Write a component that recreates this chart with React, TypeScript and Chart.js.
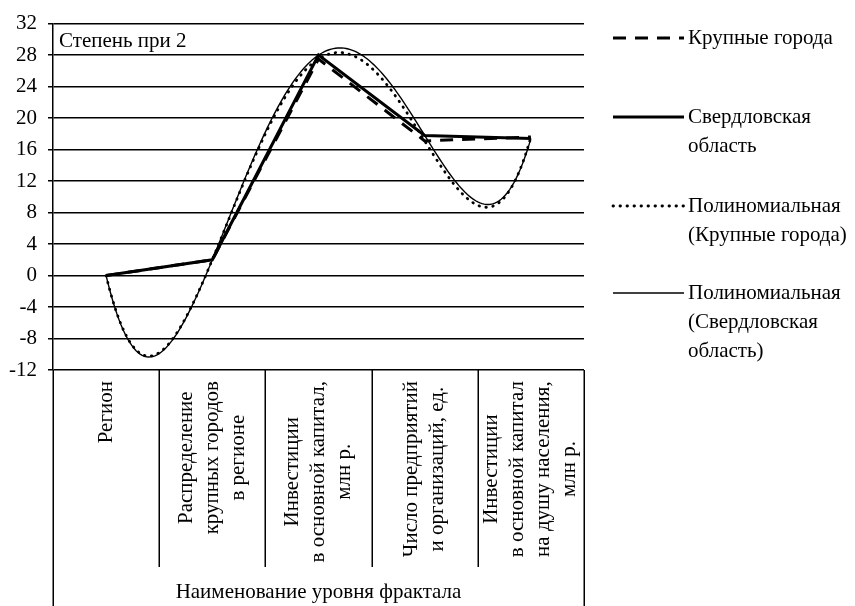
import React, { useEffect, useRef } from "react";
import { Chart, registerables } from "chart.js";
Chart.register(...registerables);

// ---- data ----
const categories: string[][] = [
  ["Регион"],
  ["Распределение", "крупных городов", "в регионе"],
  ["Инвестиции", "в основной капитал,", "млн р."],
  ["Число предприятий", "и организаций, ед."],
  ["Инвестиции", "в основной капитал", "на душу населения,", "млн р."],
];
const bigCities = [0, 2, 27.5, 17.1, 17.6];
const sverdlovsk = [0, 2, 28, 17.8, 17.4];
const yMin = -12;
const yMax = 32;
const yStep = 4;
const seriesNames = [
  "Крупные города",
  "Свердловская область",
  "Полиномиальная (Крупные города)",
  "Полиномиальная (Свердловская область)",
];
const legendLines = [
  ["Крупные города"],
  ["Свердловская", "область"],
  ["Полиномиальная", "(Крупные города)"],
  ["Полиномиальная", "(Свердловская", "область)"],
];
const axisTitle = "Наименование уровня фрактала";
const noteText = "Степень при 2";
const trendOrder = 4;

// ---- polynomial trendline (least squares, like a spreadsheet trendline) ----
function polyFit(xs: number[], ys: number[], order: number): number[] {
  const m = order + 1;
  const A: number[][] = [];
  for (let r = 0; r < m; r++) {
    const row: number[] = [];
    for (let c = 0; c < m; c++) {
      let s = 0;
      for (let k = 0; k < xs.length; k++) s += Math.pow(xs[k], r + c);
      row.push(s);
    }
    let b = 0;
    for (let k = 0; k < xs.length; k++) b += ys[k] * Math.pow(xs[k], r);
    row.push(b);
    A.push(row);
  }
  for (let i = 0; i < m; i++) {
    let p = i;
    for (let r = i + 1; r < m; r++) if (Math.abs(A[r][i]) > Math.abs(A[p][i])) p = r;
    [A[i], A[p]] = [A[p], A[i]];
    for (let r = 0; r < m; r++) {
      if (r === i) continue;
      const f = A[r][i] / A[i][i];
      for (let c = i; c <= m; c++) A[r][c] -= f * A[i][c];
    }
  }
  return A.map((row, i) => row[m] / row[i]);
}
function trendPoints(values: number[]) {
  const xs = values.map((_, i) => i + 1);
  const coef = polyFit(xs, values, trendOrder);
  const pts: { x: number; y: number }[] = [];
  const n = 200;
  for (let s = 0; s <= n; s++) {
    const x = 1 + ((xs.length - 1) * s) / n;
    let y = 0;
    for (let k = 0; k < coef.length; k++) y += coef[k] * Math.pow(x, k);
    pts.push({ x, y });
  }
  return pts;
}
const toPoints = (values: number[]) => values.map((y, i) => ({ x: i + 1, y }));

const FONT_FAMILY = "'Liberation Serif', 'Times New Roman', serif";
const FONT = `21px ${FONT_FAMILY}`;

const overlayPlugin = {
  id: "overlay",
  afterDraw(chart: any) {
    const { ctx, chartArea: ca } = chart;
    const xs = chart.scales.x;
    const n = categories.length;
    ctx.save();
    ctx.strokeStyle = "#000";
    ctx.fillStyle = "#000";
    ctx.lineWidth = 1.5;
    ctx.setLineDash([]);
    // category box separators
    for (let i = 0; i <= n; i++) {
      const px = Math.round(xs.getPixelForValue(i + 0.5)) + 0.25;
      const end = i === 0 || i === n ? chart.height : ca.bottom + 197;
      ctx.beginPath();
      ctx.moveTo(px, ca.bottom);
      ctx.lineTo(px, end);
      ctx.stroke();
    }
    // rotated category labels
    ctx.font = FONT;
    const lh = 26;
    categories.forEach((lines, i) => {
      const cx = xs.getPixelForValue(i + 1);
      const maxW = Math.max(...lines.map((l) => ctx.measureText(l).width));
      const cy = ca.bottom + 11 + maxW / 2;
      lines.forEach((line, j) => {
        const lx = cx + (j - (lines.length - 1) / 2) * lh;
        ctx.save();
        ctx.translate(lx, cy);
        ctx.rotate(-Math.PI / 2);
        ctx.textAlign = "center";
        ctx.textBaseline = "middle";
        ctx.fillText(line, 0, 0);
        ctx.restore();
      });
    });
    // axis title
    ctx.textAlign = "center";
    ctx.textBaseline = "middle";
    ctx.fillText(axisTitle, (ca.left + ca.right) / 2, ca.bottom + 222);
    // note
    ctx.textAlign = "left";
    ctx.fillText(noteText, ca.left + 6, ca.top + 18);
    // legend
    const ys = [38, 117, 206, 293];
    const x0 = 613, x1 = 684, tx = 688;
    chart.data.datasets.forEach((ds: any, i: number) => {
      const y = ys[i];
      ctx.save();
      ctx.strokeStyle = ds.borderColor;
      ctx.lineWidth = ds.borderWidth;
      ctx.lineCap = ds.borderCapStyle || "butt";
      ctx.setLineDash(ds.borderDash || []);
      ctx.beginPath();
      ctx.moveTo(x0, y);
      ctx.lineTo(x1, y);
      ctx.stroke();
      ctx.restore();
      ctx.textAlign = "left";
      ctx.textBaseline = "middle";
      legendLines[i].forEach((t, j) => ctx.fillText(t, tx, y + j * 29));
    });
    ctx.restore();
  },
};

export default function App() {
  const ref = useRef<HTMLCanvasElement | null>(null);
  useEffect(() => {
    if (!ref.current) return;
    const chart = new Chart(ref.current, {
      type: "line",
      data: {
        datasets: [
          {
            label: seriesNames[0],
            data: toPoints(bigCities),
            borderColor: "#000",
            borderWidth: 3,
            borderDash: [13, 9],
            pointRadius: 0,
            tension: 0,
          },
          {
            label: seriesNames[1],
            data: toPoints(sverdlovsk),
            borderColor: "#000",
            borderWidth: 3,
            pointRadius: 0,
            tension: 0,
          },
          {
            label: seriesNames[2],
            data: trendPoints(bigCities),
            borderColor: "#000",
            borderWidth: 2.8,
            borderCapStyle: "round",
            borderDash: [0.5, 6.5],
            pointRadius: 0,
            tension: 0,
          },
          {
            label: seriesNames[3],
            data: trendPoints(sverdlovsk),
            borderColor: "#000",
            borderWidth: 1.4,
            pointRadius: 0,
            tension: 0,
          },
        ] as any,
      },
      options: {
        animation: false,
        responsive: false,
        devicePixelRatio: 1,
        layout: { padding: { top: 18, right: 271, left: 0, bottom: 0 } },
        plugins: { legend: { display: false }, tooltip: { enabled: false } },
        scales: {
          x: {
            type: "linear",
            min: 0.5,
            max: categories.length + 0.5,
            ticks: { display: false },
            grid: { display: false },
            border: { display: false },
            afterFit: (s: any) => {
              s.height = 236;
            },
          },
          y: {
            min: yMin,
            max: yMax,
            ticks: {
              stepSize: yStep,
              color: "#000",
              padding: 11,
              font: { family: FONT_FAMILY, size: 21 },
            },
            grid: { color: "#000", lineWidth: 1.5, tickLength: 5 },
            border: { color: "#000", width: 1.5 },
            afterFit: (s: any) => {
              s.width = 53;
            },
          },
        },
      },
      plugins: [overlayPlugin],
    });
    return () => chart.destroy();
  }, []);
  return (
    <div style={{ position: "fixed", left: 0, top: 0, width: 855, height: 606, background: "#fff" }}>
      <canvas ref={ref} width={855} height={606} />
    </div>
  );
}
